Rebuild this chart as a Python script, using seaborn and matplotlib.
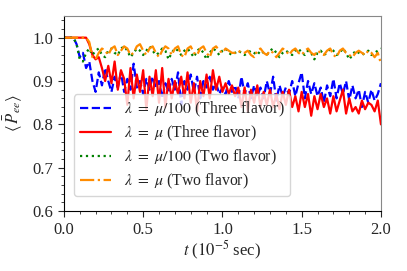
import numpy as np
import pandas as pd
import matplotlib
matplotlib.use("Agg")
import matplotlib.pyplot as plt
import seaborn as sns
from matplotlib.ticker import MultipleLocator

blue_three_mu100 = [1.0, 1.0, 1.0, 1.0, 0.985, 0.955, 0.965, 0.93, 0.945, 0.9,
    0.875, 0.92, 0.89, 0.93, 0.9, 0.875, 0.91, 0.885, 0.92, 0.875,
    0.905, 0.88, 0.94, 0.885, 0.9, 0.87, 0.905, 0.88, 0.91, 0.885,
    0.9, 0.86, 0.895, 0.875, 0.905, 0.88, 0.92, 0.845, 0.9, 0.88,
    0.915, 0.875, 0.91, 0.86, 0.9, 0.885, 0.91, 0.88, 0.895, 0.87,
    0.885, 0.87, 0.9, 0.875, 0.89, 0.86, 0.91, 0.87, 0.895, 0.86,
    0.89, 0.865, 0.885, 0.86, 0.9, 0.87, 0.91, 0.855, 0.89, 0.865,
    0.885, 0.87, 0.9, 0.865, 0.895, 0.92, 0.86, 0.9, 0.87, 0.895,
    0.865, 0.885, 0.85, 0.89, 0.865, 0.905, 0.86, 0.895, 0.87, 0.9,
    0.855, 0.89, 0.86, 0.88, 0.84, 0.875, 0.85, 0.88, 0.855, 0.87, 0.895]

red_three_mu = [1.0, 1.0, 1.0, 1.0, 1.0, 1.0, 1.0, 1.0, 0.985, 0.96,
    0.95, 0.955, 0.93, 0.9, 0.935, 0.895, 0.945, 0.88, 0.925, 0.905,
    0.845, 0.93, 0.86, 0.915, 0.875, 0.925, 0.835, 0.91, 0.865, 0.925,
    0.85, 0.93, 0.84, 0.905, 0.86, 0.9, 0.87, 0.91, 0.86, 0.92,
    0.85, 0.895, 0.83, 0.9, 0.865, 0.915, 0.86, 0.925, 0.88, 0.91,
    0.875, 0.895, 0.87, 0.89, 0.865, 0.885, 0.84, 0.885, 0.83, 0.88,
    0.85, 0.89, 0.84, 0.875, 0.845, 0.88, 0.84, 0.87, 0.835, 0.875,
    0.845, 0.88, 0.84, 0.865, 0.83, 0.875, 0.84, 0.87, 0.82, 0.865,
    0.835, 0.87, 0.84, 0.86, 0.825, 0.865, 0.83, 0.855, 0.88, 0.825,
    0.86, 0.83, 0.84, 0.825, 0.855, 0.835, 0.85, 0.845, 0.83, 0.855, 0.8]

green_two_mu100 = [1.0, 1.0, 1.0, 1.0, 0.985, 0.95, 0.945, 0.965, 0.975, 0.96,
    0.97, 0.975, 0.96, 0.955, 0.97, 0.975, 0.965, 0.96, 0.975, 0.98,
    0.97, 0.955, 0.965, 0.975, 0.97, 0.96, 0.97, 0.98, 0.97, 0.96,
    0.965, 0.975, 0.97, 0.95, 0.965, 0.975, 0.97, 0.96, 0.97, 0.975,
    0.965, 0.955, 0.97, 0.975, 0.965, 0.95, 0.965, 0.975, 0.97, 0.96,
    0.97, 0.975, 0.965, 0.96, 0.965, 0.97, 0.965, 0.96, 0.965, 0.97,
    0.965, 0.96, 0.97, 0.965, 0.96, 0.97, 0.975, 0.965, 0.955, 0.965,
    0.97, 0.965, 0.96, 0.97, 0.975, 0.965, 0.96, 0.97, 0.965, 0.95,
    0.965, 0.97, 0.96, 0.965, 0.975, 0.97, 0.96, 0.965, 0.975, 0.965,
    0.95, 0.96, 0.97, 0.965, 0.96, 0.965, 0.97, 0.96, 0.965, 0.97, 0.975]

orange_two_mu = [1.0, 1.0, 1.0, 1.0, 1.0, 1.0, 1.0, 1.0, 0.99, 0.955,
    0.95, 0.965, 0.975, 0.97, 0.96, 0.975, 0.98, 0.96, 0.97, 0.98,
    0.975, 0.96, 0.965, 0.98, 0.985, 0.97, 0.96, 0.975, 0.98, 0.965,
    0.955, 0.97, 0.98, 0.975, 0.96, 0.975, 0.98, 0.96, 0.955, 0.975,
    0.98, 0.965, 0.96, 0.975, 0.98, 0.965, 0.955, 0.975, 0.98, 0.97,
    0.965, 0.975, 0.97, 0.965, 0.965, 0.97, 0.965, 0.965, 0.97, 0.96,
    0.955, 0.97, 0.975, 0.965, 0.96, 0.97, 0.965, 0.955, 0.965, 0.975,
    0.97, 0.96, 0.97, 0.975, 0.965, 0.96, 0.97, 0.975, 0.965, 0.96,
    0.97, 0.965, 0.96, 0.97, 0.975, 0.96, 0.955, 0.97, 0.975, 0.965,
    0.96, 0.955, 0.965, 0.97, 0.965, 0.96, 0.97, 0.965, 0.955, 0.965, 0.94]

labels = [r"$\lambda\ =\ \mu/100$ (Three flavor)",
          r"$\lambda\ =\ \mu$ (Three flavor)",
          r"$\lambda\ =\ \mu/100$ (Two flavor)",
          r"$\lambda\ =\ \mu$ (Two flavor)"]
series = [blue_three_mu100, red_three_mu, green_two_mu100, orange_two_mu]
colors = ["#0000ff", "#ff0000", "#008000", "#ff8c00"]
styles = ["--", "-", ":", "-."]

sns.set_style("ticks")
plt.rcParams["font.family"] = ["Liberation Serif", "DejaVu Serif"]
plt.rcParams["mathtext.fontset"] = "stix"

fig = plt.figure(figsize=(4.07, 2.71), dpi=100)
ax = fig.add_axes([0.157, 0.221, 0.779, 0.720])

for vals, lab, c, ls in zip(series, labels, colors, styles):
    t = np.linspace(0.0, 2.0, len(vals))
    df = pd.DataFrame({"t": t, "P": vals})
    sns.lineplot(data=df, x="t", y="P", ax=ax, color=c, linestyle=ls,
                 linewidth=1.6, label=lab, estimator=None)

ax.set_xlim(0, 2.0)
ax.set_ylim(0.6, 1.05)
ax.xaxis.set_major_locator(MultipleLocator(0.5))
ax.xaxis.set_minor_locator(MultipleLocator(0.1))
ax.yaxis.set_major_locator(MultipleLocator(0.1))
ax.yaxis.set_minor_locator(MultipleLocator(0.02))
ax.tick_params(axis="both", which="both", direction="out", labelsize=12,
               top=False, right=False)
ax.tick_params(which="major", length=4, width=0.8)
ax.tick_params(which="minor", length=2.5, width=0.6)
for s in ["top", "right"]:
    ax.spines[s].set_color("#888888")
for s in ["left", "bottom"]:
    ax.spines[s].set_color("black")

ax.set_xlabel(r"$t$ ($10^{-5}$ sec)", fontsize=12, labelpad=1)
ax.set_ylabel(r"$\langle\, \bar{P}_{ee} \rangle$", fontsize=12, labelpad=6)

ax.legend(loc="lower left", bbox_to_anchor=(0.008, 0.035), fontsize=11.3,
          frameon=True, framealpha=0.8, labelspacing=0.3, borderpad=0.35,
          handlelength=2.0)

fig.savefig("out.png", dpi=100)
